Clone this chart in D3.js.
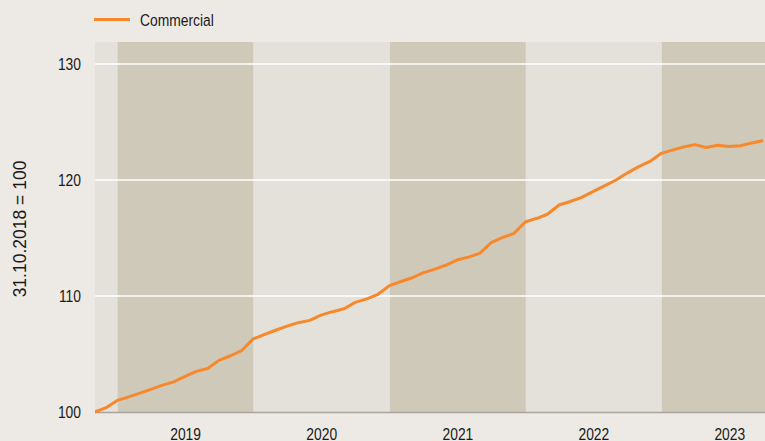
<!DOCTYPE html>
<html>
<head>
<meta charset="utf-8">
<script src="https://cdn.jsdelivr.net/npm/d3@7"></script>
<style>
  body { margin: 0; background: #edeae5; }
  svg { display: block; }
  text { font-family: "Liberation Sans", Arial, sans-serif; fill: #1a1a1a; }
</style>
</head>
<body>
<div id="chart"></div>
<script>
// month-end index values, first point 31.10.2018
var startDate = "2018-10-31";
var commercial = [
    100.0, 100.35, 101.0, 101.3, 101.6, 101.95, 102.3, 102.6, 103.05, 103.5,
    103.75, 104.45, 104.85, 105.3, 106.3, 106.7, 107.05, 107.4, 107.7, 107.9,
    108.35, 108.65, 108.9, 109.45, 109.75, 110.15, 110.9, 111.25, 111.55, 112.0,
    112.3, 112.65, 113.1, 113.35, 113.7, 114.6, 115.05, 115.4, 116.4, 116.7,
    117.05, 117.85, 118.15, 118.5, 119.0, 119.5, 120.0, 120.6, 121.15, 121.6,
    122.3, 122.6, 122.85, 123.05, 122.8, 123.0, 122.9, 122.95, 123.2, 123.4
];
var years = [2018, 2019, 2020, 2021, 2022, 2023];
var yearLabels = ["2019", "2020", "2021", "2022", "2023"];
var yTicks = [100, 110, 120, 130];
var seriesName = "Commercial";
var yTitle = "31.10.2018 = 100";

var width = 765, height = 441,
    plotLeft = 95, plotRight = 765, plotTop = 42, plotBottom = 412,
    squeeze = "scale(0.84,1)";   // fake a condensed face

var parse = d3.timeParse("%Y-%m-%d");
var t0 = parse(startDate);
var data = commercial.map(function(v, i) {
    // last day of month i months after the start
    var d = d3.timeDay.offset(d3.timeMonth.offset(new Date(2018, 10, 1), i), -1);
    return [d, v];
});

var xScale = d3.scaleTime()
    .domain([t0, parse("2023-10-05")])
    .range([94.5, 765]);
var yScale = d3.scaleLinear()
    .domain([100, 131.9])
    .range([plotBottom, plotTop]);

var svg = d3.select("#chart").append("svg")
    .attr("width", width)
    .attr("height", height);

svg.append("clipPath").attr("id", "plotclip")
    .append("rect")
    .attr("x", plotLeft).attr("y", plotTop - 2)
    .attr("width", plotRight - plotLeft).attr("height", plotBottom - plotTop + 4);

// alternating year bands
var bandG = svg.append("g").attr("clip-path", "url(#plotclip)");
bandG.selectAll("rect")
    .data(years)
    .enter().append("rect")
    .attr("x", function(y) { return Math.max(plotLeft, xScale(new Date(y, 0, 1))); })
    .attr("width", function(y) {
        var a = Math.max(plotLeft, xScale(new Date(y, 0, 1)));
        return Math.min(plotRight, xScale(new Date(y + 1, 0, 1))) - a;
    })
    .attr("y", plotTop)
    .attr("height", plotBottom - plotTop)
    .attr("fill", function(y) { return y % 2 === 1 ? "#cfc9b9" : "#e4e1da"; });

// grid lines
svg.append("g")
    .selectAll("line")
    .data(yTicks.slice(1))
    .enter().append("line")
    .attr("x1", plotLeft).attr("x2", plotRight)
    .attr("y1", function(d) { return yScale(d); })
    .attr("y2", function(d) { return yScale(d); })
    .attr("stroke", "#ffffff")
    .attr("stroke-width", 1.5);

// baseline
svg.append("line")
    .attr("x1", plotLeft).attr("x2", plotRight)
    .attr("y1", yScale(100) + 0.5).attr("y2", yScale(100) + 0.5)
    .attr("stroke", "#a9a59d")
    .attr("stroke-width", 1.5);

// y axis labels
var yAxis = d3.axisLeft(yScale).tickValues(yTicks).tickSize(0).tickPadding(0);
var yAxisG = svg.append("g")
    .attr("transform", "translate(81,0)")
    .call(yAxis);
yAxisG.select(".domain").remove();
yAxisG.selectAll("text")
    .attr("font-size", "16.5px")
    .attr("fill", "#1a1a1a")
    .attr("transform", squeeze)
    .style("font-family", "'Liberation Sans', Arial, sans-serif");

svg.append("text")
    .attr("transform", "translate(26," + ((plotTop + plotBottom) / 2 + 2) + ") rotate(-90)")
    .attr("text-anchor", "middle")
    .attr("font-size", "17.5px")
    .text(yTitle);

// year labels centred in each band
svg.append("g")
    .selectAll("text")
    .data(yearLabels)
    .enter().append("text")
    .attr("transform", function(y) {
        var yy = +y;
        var a = xScale(new Date(yy, 0, 1)), b = xScale(new Date(yy + 1, 0, 1));
        return "translate(" + ((a + b) / 2) + ",439.5) " + squeeze;
    })
    .attr("text-anchor", "middle")
    .attr("font-size", "16.5px")
    .text(function(d) { return d; });

// the line
var line = d3.line()
    .x(function(d) { return xScale(d[0]); })
    .y(function(d) { return yScale(d[1]); });
svg.append("path")
    .datum(data)
    .attr("clip-path", "url(#plotclip)")
    .attr("d", line)
    .attr("fill", "none")
    .attr("stroke", "#f7882c")
    .attr("stroke-width", 3)
    .attr("stroke-linejoin", "round");

// legend
svg.append("line")
    .attr("x1", 94).attr("x2", 130)
    .attr("y1", 19.5).attr("y2", 19.5)
    .attr("stroke", "#f7882c")
    .attr("stroke-width", 3);
svg.append("text")
    .attr("transform", "translate(140,26) " + squeeze)
    .attr("font-size", "16.5px")
    .text(seriesName);
</script>
</body>
</html>
